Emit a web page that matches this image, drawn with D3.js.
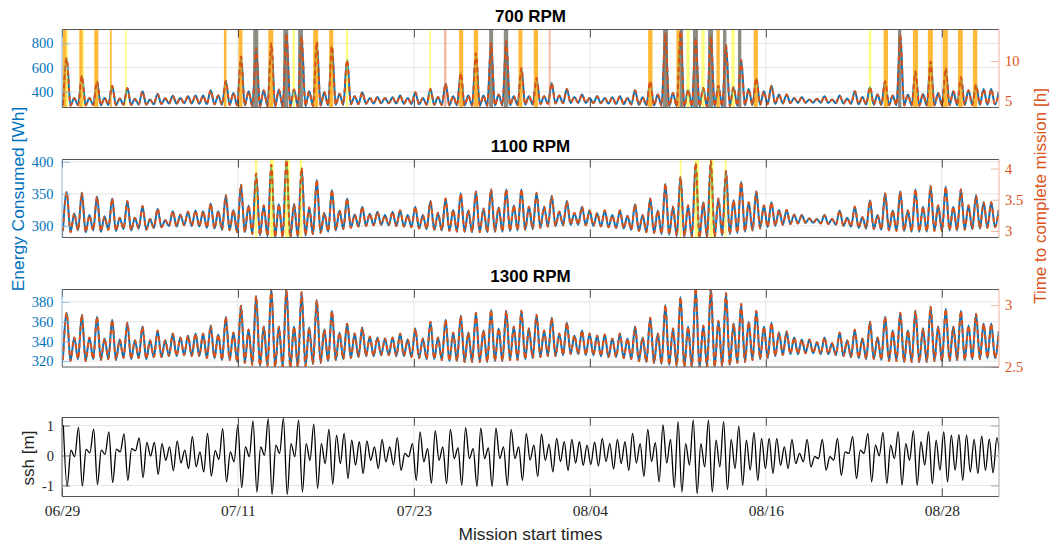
<!DOCTYPE html>
<html>
<head>
<meta charset="utf-8">
<script src="https://cdn.jsdelivr.net/npm/d3@7"></script>
<style>
  body { margin: 0; background: #fff; }
  .tick text { font-family: "Liberation Serif", "DejaVu Serif", serif; }
</style>
</head>
<body>
<svg id="fig" width="1051" height="546"></svg>
<script>
// ---- data ----
const startDate = "2021-06-29";
const spanDays = 63.9;
const dateTicks = ["2021-06-29", "2021-07-11", "2021-07-23", "2021-08-04", "2021-08-16", "2021-08-28"];
const rpmTitles = ["700 RPM", "1100 RPM", "1300 RPM"];

// extremes (trough, peak, trough, peak ...) sampled every half tidal cycle
const firstExtremeDay = 0.0616;
const extremeStep = 0.2584;

const energyPeaks700 = [677, 351, 533, 351, 487, 351, 452, 346, 433, 343,
  405, 337, 384, 348, 368, 351, 365, 370, 370, 414,
  370, 492, 392, 691, 405, 759, 414, 800, 419, 881,
  419, 854, 405, 813, 397, 778, 386, 664,
  365, 397, 351, 359, 351, 356, 370, 351, 397, 351,
  424, 359, 468, 365, 555, 370, 718, 370, 800, 378,
  820, 365, 596, 365, 514, 365, 473, 370, 424, 359,
  378, 351, 365, 351, 356, 365, 351, 414, 356, 487,
  378, 881, 392, 900,
  419, 840, 433, 854, 452, 786, 441, 664, 424, 514,
  405, 452, 378, 378, 351, 359, 337, 343, 365, 337,
  370, 346, 405, 359, 441, 378, 487, 370, 868, 378,
  569, 384, 650, 392, 596, 405, 522, 414, 460, 424,
  424, 400];
const energyTroughs700 = [290, 288, 291, 289, 292, 290, 293, 291, 295, 293, 297, 296, 299,
  301, 304, 304, 306, 305, 303,
  300, 298, 295, 293, 290, 288,
  284, 282, 282, 280, 280, 280, 281, 283, 285,
  288, 290, 292, 295, 298, 301, 303,
  305, 306, 306, 305, 303, 301,
  298, 296, 294, 292, 290, 289, 288, 287, 287, 287, 288, 289, 290, 292,
  294, 296, 299, 302, 305, 307, 309, 310, 309, 308, 306, 304, 302, 300,
  297, 294, 291, 288, 285, 283,
  281, 280, 279, 279, 279, 280, 281, 283, 286, 289, 292,
  295, 298, 302, 305, 308, 310, 312, 312, 311, 310, 308, 305, 302, 299,
  297, 295, 293, 291, 290, 289, 288, 288, 288, 289, 289, 290, 291, 292, 293, 294, 295, 296];
const hoursPeaks700 = [10.35, 5.37, 8.15, 5.37, 7.45, 5.37, 6.91, 5.29, 6.62, 5.24,
  6.19, 5.15, 5.87, 5.32, 5.63, 5.37, 5.58, 5.66, 5.66, 6.33,
  5.66, 7.52, 5.99, 10.57, 6.19, 11.61, 6.33, 12.23, 6.41, 13.47,
  6.41, 13.06, 6.19, 12.43, 6.07, 11.90, 5.90, 10.15,
  5.58, 6.07, 5.37, 5.49, 5.37, 5.44, 5.66, 5.37, 6.07, 5.37,
  6.48, 5.49, 7.16, 5.58, 8.49, 5.66, 10.98, 5.66, 12.23, 5.78,
  12.54, 5.58, 9.11, 5.58, 7.86, 5.58, 7.23, 5.66, 6.48, 5.49,
  5.78, 5.37, 5.58, 5.37, 5.44, 5.58, 5.37, 6.33, 5.44, 7.45,
  5.78, 13.47, 5.99, 13.76,
  6.41, 12.84, 6.62, 13.06, 6.91, 12.02, 6.74, 10.15, 6.48, 7.86,
  6.19, 6.91, 5.78, 5.78, 5.37, 5.49, 5.15, 5.24, 5.58, 5.15,
  5.66, 5.29, 6.19, 5.49, 6.74, 5.78, 7.45, 5.66, 13.27, 5.78,
  8.70, 5.87, 9.94, 5.99, 9.11, 6.19, 7.98, 6.33, 7.03, 6.48,
  6.48, 6.12];
const hoursTroughs700 = [4.43, 4.40, 4.45, 4.42, 4.46, 4.43, 4.48, 4.45, 4.51, 4.48, 4.54, 4.53, 4.57,
  4.60, 4.65, 4.65, 4.68, 4.66, 4.63,
  4.59, 4.56, 4.51, 4.48, 4.43, 4.40,
  4.34, 4.31, 4.31, 4.28, 4.28, 4.28, 4.30, 4.33, 4.36,
  4.40, 4.43, 4.46, 4.51, 4.56, 4.60, 4.63,
  4.66, 4.68, 4.68, 4.66, 4.63, 4.60,
  4.56, 4.53, 4.50, 4.46, 4.43, 4.42, 4.40, 4.39, 4.39, 4.39, 4.40, 4.42, 4.43, 4.46,
  4.50, 4.53, 4.57, 4.62, 4.66, 4.69, 4.72, 4.74, 4.72, 4.71, 4.68, 4.65, 4.62, 4.59,
  4.54, 4.50, 4.45, 4.40, 4.36, 4.33,
  4.30, 4.28, 4.27, 4.27, 4.27, 4.28, 4.30, 4.33, 4.37, 4.42, 4.46,
  4.51, 4.56, 4.62, 4.66, 4.71, 4.74, 4.77, 4.77, 4.76, 4.74, 4.71, 4.66, 4.62, 4.57,
  4.54, 4.51, 4.48, 4.45, 4.43, 4.42, 4.40, 4.40, 4.40, 4.42, 4.42, 4.43, 4.45, 4.46, 4.48, 4.50, 4.51, 4.53];

const energyPeaks1100 = [353, 319, 352, 317, 346, 315, 343, 313, 339, 313,
  331, 311, 327, 309, 323, 318, 322, 324, 323, 335,
  323, 348, 325, 364, 332, 382, 332, 395, 334, 403,
  334, 391, 329, 372, 320, 356, 324, 343,
  318, 330, 319, 322, 317, 322, 324, 317, 330, 317,
  339, 320, 343, 325, 351, 324, 354, 327, 357, 329,
  357, 332, 357, 330, 352, 330, 347, 322, 339, 320,
  330, 324, 320, 324, 317, 324, 316, 334, 317, 343,
  324, 366, 330, 377,
  332, 398, 337, 401, 343, 386, 340, 369, 337, 354,
  332, 337, 325, 325, 318, 317, 312, 311, 317, 311,
  324, 313, 330, 314, 340, 317, 351, 324, 354, 324,
  357, 330, 362, 332, 361, 330, 357, 332, 348, 337,
  337, 325];
const energyTroughs1100 = [292, 290, 293, 290, 293, 291, 294, 292, 295, 293, 296, 294, 297,
  298, 300, 299, 301, 300, 299,
  297, 296, 294, 293, 290, 290,
  287, 285, 284, 282, 282, 281, 283, 285, 287,
  289, 291, 293, 295, 297, 299, 300,
  301, 302, 301, 300, 299, 298,
  296, 295, 294, 293, 292, 291, 291, 290, 290, 290, 291, 291, 292, 293,
  294, 295, 297, 299, 300, 301, 302, 302, 301, 300, 299, 298, 297, 296,
  294, 292, 290, 289, 287, 286,
  284, 283, 282, 281, 282, 283, 285, 287, 289, 291, 293,
  296, 298, 300, 302, 303, 304, 305, 305, 304, 303, 302, 300, 299, 297,
  296, 295, 294, 293, 292, 292, 291, 291, 291, 292, 292, 293, 293, 294, 295, 296, 297, 298];
const hoursPeaks1100 = [3.62, 3.28, 3.61, 3.25, 3.55, 3.23, 3.52, 3.21, 3.48, 3.21,
  3.40, 3.19, 3.36, 3.17, 3.32, 3.26, 3.31, 3.33, 3.32, 3.44,
  3.32, 3.57, 3.34, 3.74, 3.41, 3.92, 3.41, 4.06, 3.43, 4.14,
  3.43, 4.01, 3.38, 3.82, 3.29, 3.66, 3.33, 3.52,
  3.26, 3.39, 3.28, 3.31, 3.25, 3.31, 3.33, 3.25, 3.39, 3.25,
  3.48, 3.29, 3.52, 3.34, 3.60, 3.33, 3.63, 3.36, 3.67, 3.38,
  3.67, 3.41, 3.67, 3.39, 3.61, 3.39, 3.56, 3.31, 3.48, 3.29,
  3.39, 3.33, 3.29, 3.33, 3.25, 3.33, 3.24, 3.43, 3.25, 3.52,
  3.33, 3.76, 3.39, 3.87,
  3.41, 4.09, 3.46, 4.12, 3.52, 3.96, 3.49, 3.79, 3.46, 3.63,
  3.41, 3.46, 3.34, 3.34, 3.26, 3.25, 3.20, 3.19, 3.25, 3.19,
  3.33, 3.21, 3.39, 3.22, 3.49, 3.25, 3.60, 3.33, 3.63, 3.33,
  3.67, 3.39, 3.72, 3.41, 3.71, 3.39, 3.67, 3.41, 3.57, 3.46,
  3.46, 3.34];
const hoursTroughs1100 = [3.00, 2.98, 3.01, 2.98, 3.01, 2.99, 3.02, 3.00, 3.03, 3.01, 3.04, 3.02, 3.05,
  3.06, 3.08, 3.07, 3.09, 3.08, 3.07,
  3.05, 3.04, 3.02, 3.01, 2.98, 2.98,
  2.95, 2.93, 2.92, 2.90, 2.90, 2.89, 2.91, 2.93, 2.95,
  2.97, 2.99, 3.01, 3.03, 3.05, 3.07, 3.08,
  3.09, 3.10, 3.09, 3.08, 3.07, 3.06,
  3.04, 3.03, 3.02, 3.01, 3.00, 2.99, 2.99, 2.98, 2.98, 2.98, 2.99, 2.99, 3.00, 3.01,
  3.02, 3.03, 3.05, 3.07, 3.08, 3.09, 3.10, 3.10, 3.09, 3.08, 3.07, 3.06, 3.05, 3.04,
  3.02, 3.00, 2.98, 2.97, 2.95, 2.94,
  2.92, 2.91, 2.90, 2.89, 2.90, 2.91, 2.93, 2.95, 2.97, 2.99, 3.01,
  3.04, 3.06, 3.08, 3.10, 3.11, 3.12, 3.13, 3.13, 3.12, 3.11, 3.10, 3.08, 3.07, 3.05,
  3.04, 3.03, 3.02, 3.01, 3.00, 3.00, 2.99, 2.99, 2.99, 3.00, 3.00, 3.01, 3.01, 3.02, 3.03, 3.04, 3.05, 3.06];

const energyPeaks1300 = [369, 344, 367, 344, 365, 343, 362, 342, 359, 341,
  355, 341, 351, 341, 348, 344, 346, 348, 348, 356,
  347, 365, 349, 376, 352, 386, 355, 394, 355, 394,
  355, 390, 354, 382, 352, 371, 349, 358,
  348, 354, 345, 344, 343, 344, 348, 342, 353, 343,
  360, 344, 362, 349, 366, 349, 369, 351, 372, 353,
  371, 355, 371, 353, 367, 351, 364, 348, 359, 346,
  351, 348, 346, 347, 343, 348, 343, 355, 344, 364,
  348, 377, 353, 385,
  355, 394, 356, 394, 361, 389, 358, 378, 360, 371,
  355, 359, 349, 350, 344, 342, 342, 339, 344, 338,
  349, 341, 352, 343, 360, 344, 365, 351, 369, 351,
  371, 353, 375, 355, 373, 355, 371, 356, 368, 358,
  358, 350];
const energyTroughs1300 = [321, 320, 322, 320, 322, 321, 322, 321, 323, 322, 323, 322, 324,
  324, 325, 325, 326, 325, 325,
  323, 323, 321, 321, 319, 318,
  316, 315, 315, 314, 314, 313, 314, 315, 317,
  318, 320, 321, 322, 323, 324, 325,
  325, 326, 326, 325, 325, 324,
  323, 322, 322, 321, 320, 320, 319, 319, 319, 319, 320, 320, 321, 321,
  322, 323, 324, 325, 325, 326, 327, 327, 326, 326, 325, 324, 324, 323,
  322, 320, 319, 318, 317, 316,
  315, 314, 314, 313, 314, 314, 315, 316, 318, 319, 321,
  322, 323, 325, 326, 327, 327, 328, 328, 327, 327, 326, 325, 324, 323,
  322, 322, 321, 320, 320, 319, 319, 319, 319, 320, 320, 320, 321, 321, 322, 322, 323, 323];
const hoursPeaks1300 = [2.938, 2.739, 2.922, 2.739, 2.906, 2.731, 2.882, 2.723, 2.858, 2.715,
  2.826, 2.715, 2.795, 2.715, 2.771, 2.739, 2.755, 2.771, 2.771, 2.834,
  2.763, 2.906, 2.779, 2.994, 2.803, 3.073, 2.826, 3.137, 2.826, 3.137,
  2.826, 3.105, 2.818, 3.041, 2.803, 2.954, 2.779, 2.850,
  2.771, 2.818, 2.747, 2.739, 2.731, 2.739, 2.771, 2.723, 2.811, 2.731,
  2.866, 2.739, 2.882, 2.779, 2.914, 2.779, 2.938, 2.795, 2.962, 2.811,
  2.954, 2.826, 2.954, 2.811, 2.922, 2.795, 2.898, 2.771, 2.858, 2.755,
  2.795, 2.771, 2.755, 2.763, 2.731, 2.771, 2.731, 2.826, 2.739, 2.898,
  2.771, 3.002, 2.811, 3.065,
  2.826, 3.137, 2.834, 3.137, 2.874, 3.097, 2.850, 3.010, 2.866, 2.954,
  2.826, 2.858, 2.779, 2.787, 2.739, 2.723, 2.723, 2.699, 2.739, 2.691,
  2.779, 2.715, 2.803, 2.731, 2.866, 2.739, 2.906, 2.795, 2.938, 2.795,
  2.954, 2.811, 2.986, 2.826, 2.970, 2.826, 2.954, 2.834, 2.930, 2.850,
  2.850, 2.787];
const hoursTroughs1300 = [2.556, 2.548, 2.564, 2.548, 2.564, 2.556, 2.564, 2.556, 2.572, 2.564, 2.572, 2.564, 2.580,
  2.580, 2.588, 2.588, 2.596, 2.588, 2.588,
  2.572, 2.572, 2.556, 2.556, 2.540, 2.532,
  2.516, 2.508, 2.508, 2.500, 2.500, 2.492, 2.500, 2.508, 2.524,
  2.532, 2.548, 2.556, 2.564, 2.572, 2.580, 2.588,
  2.588, 2.596, 2.596, 2.588, 2.588, 2.580,
  2.572, 2.564, 2.564, 2.556, 2.548, 2.548, 2.540, 2.540, 2.540, 2.540, 2.548, 2.548, 2.556, 2.556,
  2.564, 2.572, 2.580, 2.588, 2.588, 2.596, 2.604, 2.604, 2.596, 2.596, 2.588, 2.580, 2.580, 2.572,
  2.564, 2.548, 2.540, 2.532, 2.524, 2.516,
  2.508, 2.500, 2.500, 2.492, 2.500, 2.500, 2.508, 2.516, 2.532, 2.540, 2.556,
  2.564, 2.572, 2.588, 2.596, 2.604, 2.604, 2.611, 2.611, 2.604, 2.604, 2.596, 2.588, 2.580, 2.572,
  2.564, 2.564, 2.556, 2.548, 2.548, 2.540, 2.540, 2.540, 2.540, 2.548, 2.548, 2.548, 2.556, 2.556, 2.564, 2.564, 2.572, 2.572];

// sea surface height extremes (high, low, high, low ...)
const sshFirstDay = 0.09;
const sshStep = 0.2588;
const sshExtremes = [1.02, -1.03, 0.18, -0.04, 0.94, -1.02, 0.2, 0.09, 0.88, -0.97,
  0.18, 0.04, 0.79, -0.9, 0.21, 0.12, 0.72, -0.83, 0.23, 0.16,
  0.59, -0.74, 0.44, -0.02, 0.44, -0.63, 0.4, -0.16, 0.29, -0.51,
  0.49, -0.25, 0.18, -0.44, 0.63, -0.38, 0.12, -0.55, 0.74, -0.69,
  0.16, -0.13, 0.9, -0.88, 0.12, -0.21, 1.02, -1.07, 0.29, -0.04,
  1.16, -1.22, 0.29, 0.01, 1.22, -1.3, 0.35, 0.07, 1.24, -1.3,
  0.4, -0.04, 1.18, -1.22, 0.4, -0.16, 1.05, -1.1, 0.4, -0.27,
  0.87, -0.96, 0.68, -0.27, 0.74, -0.77,
  0.51, -0.32, 0.46, -0.6, 0.49, -0.16, 0.29, -0.44, 0.54, -0.21,
  0.29, -0.32, 0.6, -0.49, 0.07, -0.04, 0.4,
  -0.83, 0.79, -0.21, 0.23, -0.92, 0.83, -0.16, 0.29, -0.94, 0.87,
  -0.1, 0.25, -0.99, 0.93, -0.1, 0.23, -1.03, 0.91, -0.1, 0.25,
  -1.03, 0.91, -0.1, 0.29, -1.0, 0.87, -0.1, 0.29, -0.83, 0.73,
  -0.15, 0.35, -0.7, 0.71, -0.16, 0.38, -0.55, 0.57, -0.2, 0.46,
  -0.5, 0.54, -0.25, 0.46, -0.33, 0.35, -0.3, 0.45, -0.35, 0.57, -0.2, 0.4,
  -0.45, 0.54, -0.27, 0.46, -0.5, 0.74, -0.25, 0.4, -0.7, 0.87,
  -0.2, 0.43, -0.88, 1.02, -0.25, 0.54, -1.07, 1.13,
  -1.22, 0.4, -0.32, 1.18, -1.27, 0.4, -0.38, 1.18, -1.22, 0.51,
  -0.38, 1.13, -1.14, 0.54, -0.44, 0.98, -1.0, 0.51, -0.49, 0.77,
  -0.83, 0.57, -0.44, 0.57, -0.6, 0.57, -0.33, 0.29, -0.44, 0.54,
  -0.27, 0.07, -0.21, 0.54, -0.38, -0.04, -0.1, 0.54, -0.49, -0.04,
  -0.16, 0.57, -0.66, 0.12, 0.07, 0.63, -0.77, 0.18, 0.07, 0.74,
  -0.88, 0.35, -0.01, 0.77, -0.94, 0.35, -0.1, 0.8, -0.99, 0.4,
  -0.16, 0.83, -0.99, 0.46, -0.32, 0.8, -0.94, 0.51, -0.49, 0.79,
  -0.88, 0.68, -0.49, 0.7, -0.83, 0.68, -0.55, 0.54, -0.6, 0.65,
  -0.5, 0.55, -0.58, 0.6, -0.4];

// highlighted mission windows (days after start)
const bandStart700 = [0.03, 0.31, 1.18, 1.41, 2.2, 3.27, 4.3, 11.04, 12.04, 13.04, 14.07, 15.09, 15.72, 16.1, 17.13, 18.22, 19.36,
  25.04, 26.06, 27.08, 28.08, 29.13, 30.13, 31.13, 32.17, 33.2, 39.97, 40.99, 41.9, 42.13, 42.58, 43.03, 43.6, 44.06,
  44.63, 45.08, 45.65, 46.1, 47.17, 55.03, 56.03, 57.01, 58.03, 59.05, 60.07, 61.1, 62.12];
const bandEnd700 = [0.31, 0.41, 1.41, 1.5, 2.48, 3.39, 4.41, 11.22, 12.31, 13.39, 14.41, 15.43, 15.88, 16.43, 17.47, 18.5, 19.52,
  25.15, 26.22, 27.36, 28.38, 29.4, 30.43, 31.4, 32.46, 33.32, 40.27, 41.33, 42.13, 42.36, 42.81, 43.37, 43.83, 44.4,
  44.86, 45.31, 45.88, 46.33, 47.46, 55.19, 56.33, 57.24, 58.37, 59.39, 60.41, 61.43, 62.42];
const bandKind700 = ["o", "y", "o", "y", "o", "o", "y", "o", "o", "g", "o", "g", "y", "g", "o", "o", "y",
  "y", "s", "o", "o", "g", "g", "o", "o", "s", "o", "g", "o", "g", "y", "g", "y", "g",
  "o", "g", "y", "g", "o", "y", "o", "g", "o", "o", "o", "o", "o"];
const bandStart1100 = [13.16, 14.18, 15.2, 16.22, 42.13, 43.15, 44.17, 45.19];
const bandEnd1100 = [13.31, 14.45, 15.54, 16.38, 42.24, 43.44, 44.44, 45.31];

// axis limits and ticks
const energyLim = [[272, 914], [282, 403.7], [314, 392.6]];
const hoursLim = [[4.159, 13.976], [2.8953, 4.1448], [2.5, 3.1258]];
const energyTicks = [[400, 600, 800], [300, 350, 400], [320, 340, 360, 380]];
const hoursTicks = [[5, 10], [3, 3.5, 4], [2.5, 3]];
const sshLim = [-1.37, 1.27];
const sshTicks = [-1, 0, 1];

// ---- layout ----
const plotL = 62, plotR = 999;
const panelTop = [29.5, 159.5, 289.5, 417.5];
const panelBot = [107.5, 237.5, 367, 496.5];
const blue = "#0072BD", orange = "#D95319", ink = "#262626";
const serif = '"Liberation Serif", "DejaVu Serif", serif';
const sans = '"Liberation Sans", Arial, Helvetica, sans-serif';
const bandFill = { y: "rgba(255,255,0,0.5)", o: "rgba(255,165,0,0.78)", g: "rgba(112,112,100,0.8)", s: "rgba(235,105,60,0.5)" };

const svg = d3.select("#fig");
const defs = svg.append("defs");
const parseDate = d3.utcParse("%Y-%m-%d");
const t0 = parseDate(startDate);
const toDate = d => new Date(t0.getTime() + d * 864e5);
const x = d3.scaleUtc().domain([t0, toDate(spanDays)]).range([plotL, plotR]);
const tickDates = dateTicks.map(parseDate);

function interleave(troughs, peaks) {
  const pts = [];
  troughs.forEach((v, i) => {
    pts.push([firstExtremeDay + 2 * i * extremeStep, v]);
    pts.push([firstExtremeDay + (2 * i + 1) * extremeStep, peaks[i]]);
  });
  return pts;
}

const panels = [
  { eP: energyPeaks700, eT: energyTroughs700, hP: hoursPeaks700, hT: hoursTroughs700,
    bands: bandStart700.map((s, i) => ({ s, e: bandEnd700[i], k: bandKind700[i] })) },
  { eP: energyPeaks1100, eT: energyTroughs1100, hP: hoursPeaks1100, hT: hoursTroughs1100,
    bands: bandStart1100.map((s, i) => ({ s, e: bandEnd1100[i], k: "y" })) },
  { eP: energyPeaks1300, eT: energyTroughs1300, hP: hoursPeaks1300, hT: hoursTroughs1300, bands: [] }
];

function styleAxis(g, color, size) {
  g.select(".domain").remove();
  g.attr("font-family", serif).attr("font-size", size);
  g.selectAll(".tick line").attr("stroke", color).attr("stroke-width", 0.8);
  g.selectAll(".tick text").attr("fill", color).style("font-family", serif).style("font-size", size + "px");
}

function frame(i, leftColor, rightColor) {
  const top = panelTop[i], bot = panelBot[i];
  // x ticks, top and bottom, pointing inward
  const xb = svg.append("g").attr("transform", `translate(0,${bot})`)
    .call(d3.axisBottom(x).tickValues(tickDates).tickSize(-8).tickPadding(8)
      .tickFormat(i === 3 ? d3.utcFormat("%m/%d") : ""));
  styleAxis(xb, ink, 15.5);
  const xt = svg.append("g").attr("transform", `translate(0,${top})`)
    .call(d3.axisTop(x).tickValues(tickDates).tickSize(-8).tickFormat(""));
  styleAxis(xt, ink, 15.5);
  svg.append("line").attr("x1", plotL).attr("x2", plotR).attr("y1", top).attr("y2", top)
    .attr("stroke", "#555").attr("stroke-width", 1);
  svg.append("line").attr("x1", plotL).attr("x2", plotR).attr("y1", bot).attr("y2", bot)
    .attr("stroke", "#555").attr("stroke-width", 1);
  svg.append("line").attr("x1", plotL).attr("x2", plotL).attr("y1", top).attr("y2", bot)
    .attr("stroke", leftColor).attr("stroke-width", 1);
  svg.append("line").attr("x1", plotR).attr("x2", plotR).attr("y1", top).attr("y2", bot)
    .attr("stroke", rightColor).attr("stroke-width", 1);
}

function grid(i, yScale, ticks) {
  const top = panelTop[i], bot = panelBot[i];
  const g = svg.append("g").attr("stroke", "#e4e4e4").attr("stroke-width", 1);
  g.selectAll("line.h").data(ticks).join("line")
    .attr("x1", plotL).attr("x2", plotR)
    .attr("y1", d => yScale(d)).attr("y2", d => yScale(d));
  g.selectAll("line.v").data(tickDates.slice(1)).join("line")
    .attr("x1", d => x(d)).attr("x2", d => x(d))
    .attr("y1", top).attr("y2", bot);
}

panels.forEach((p, i) => {
  const top = panelTop[i], bot = panelBot[i];
  const yL = d3.scaleLinear().domain(energyLim[i]).range([bot, top]);
  const yR = d3.scaleLinear().domain(hoursLim[i]).range([bot, top]);
  defs.append("clipPath").attr("id", "clip" + i).append("rect")
    .attr("x", plotL).attr("y", top).attr("width", plotR - plotL).attr("height", bot - top);

  grid(i, yL, energyTicks[i]);

  const body = svg.append("g").attr("clip-path", `url(#clip${i})`);
  const eLine = d3.line().x(d => x(toDate(d[0]))).y(d => yL(d[1])).curve(d3.curveMonotoneX);
  const hLine = d3.line().x(d => x(toDate(d[0]))).y(d => yR(d[1])).curve(d3.curveMonotoneX);

  body.append("path").datum(interleave(p.eT, p.eP))
    .attr("d", eLine).attr("fill", "none").attr("stroke", blue).attr("stroke-width", 2);

  body.selectAll("rect.band").data(p.bands).join("rect")
    .attr("x", d => x(toDate(d.s))).attr("width", d => x(toDate(d.e)) - x(toDate(d.s)))
    .attr("y", top).attr("height", bot - top).attr("fill", d => bandFill[d.k]);

  body.append("path").datum(interleave(p.hT, p.hP))
    .attr("d", hLine).attr("fill", "none").attr("stroke", orange).attr("stroke-width", 2)
    .attr("stroke-dasharray", "5,3.5");

  const la = svg.append("g").attr("transform", `translate(${plotL},0)`)
    .call(d3.axisLeft(yL).tickValues(energyTicks[i]).tickSize(-8).tickPadding(8.5).tickFormat(d => d));
  styleAxis(la, blue, 14.5);
  const ra = svg.append("g").attr("transform", `translate(${plotR},0)`)
    .call(d3.axisRight(yR).tickValues(hoursTicks[i]).tickSize(-8).tickPadding(6).tickFormat(d => String(d)));
  styleAxis(ra, orange, 14.5);
  ra.selectAll(".tick line").attr("stroke", "#eba88c");
  la.selectAll(".tick line").attr("stroke", "#86b6df");

  frame(i, "#8dbbe2", "#eeb29a");

  svg.append("text").attr("x", (plotL + plotR) / 2).attr("y", top - 7.5)
    .attr("text-anchor", "middle").attr("font-family", sans).attr("font-weight", "bold")
    .attr("font-size", 17).attr("fill", "#000").text(rpmTitles[i]);
});

// ssh panel
{
  const i = 3, top = panelTop[i], bot = panelBot[i];
  const y = d3.scaleLinear().domain(sshLim).range([bot, top]);
  defs.append("clipPath").attr("id", "clip3").append("rect")
    .attr("x", plotL).attr("y", top).attr("width", plotR - plotL).attr("height", bot - top);
  grid(i, y, sshTicks);
  const pts = sshExtremes.map((v, k) => [sshFirstDay + k * sshStep, v]);
  svg.append("g").attr("clip-path", "url(#clip3)").append("path").datum(pts)
    .attr("d", d3.line().x(d => x(toDate(d[0]))).y(d => y(d[1])).curve(d3.curveMonotoneX))
    .attr("fill", "none").attr("stroke", "#000").attr("stroke-width", 1.3);
  const la = svg.append("g").attr("transform", `translate(${plotL},0)`)
    .call(d3.axisLeft(y).tickValues(sshTicks).tickSize(-8).tickPadding(8).tickFormat(d => d < 0 ? "-" + Math.abs(d) : String(d)));
  styleAxis(la, ink, 14.5);
  la.selectAll(".tick line").attr("stroke", "#555");
  const ra = svg.append("g").attr("transform", `translate(${plotR},0)`)
    .call(d3.axisRight(y).tickValues(sshTicks).tickSize(-8).tickFormat(""));
  styleAxis(ra, "#999", 14.5);
  frame(i, "#555", "#aaa");
}

// axis labels
svg.append("text").attr("transform", "translate(24,199) rotate(-90)")
  .attr("text-anchor", "middle").attr("font-family", sans).attr("font-size", 17.4)
  .attr("fill", blue).text("Energy Consumed [Wh]");
svg.append("text").attr("transform", "translate(1045.5,196) rotate(-90)")
  .attr("text-anchor", "middle").attr("font-family", sans).attr("font-size", 17)
  .attr("fill", orange).text("Time to complete mission [h]");
svg.append("text").attr("transform", "translate(34,458) rotate(-90)")
  .attr("text-anchor", "middle").attr("font-family", sans).attr("font-size", 17)
  .attr("fill", ink).text("ssh [m]");
svg.append("text").attr("x", (plotL + plotR) / 2).attr("y", 539.5)
  .attr("text-anchor", "middle").attr("font-family", sans).attr("font-size", 17.4)
  .attr("fill", ink).text("Mission start times");
</script>
</body>
</html>
